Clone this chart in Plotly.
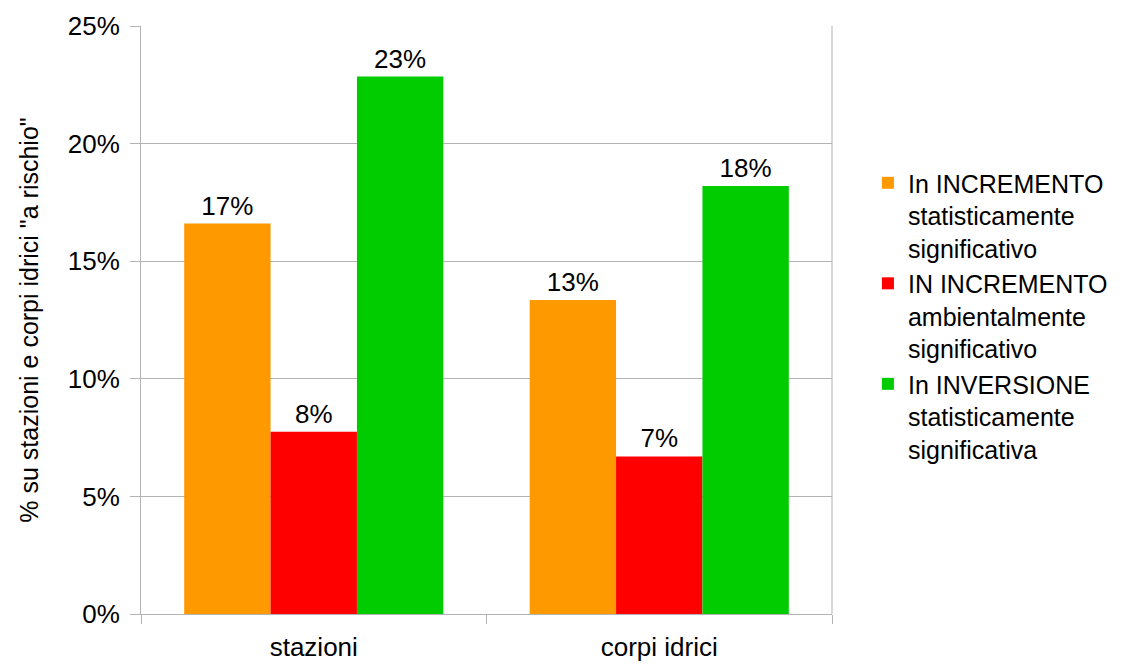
import plotly.graph_objects as go

categories = ["stazioni", "corpi idrici"]
series_names = [
    "In INCREMENTO<br>statisticamente<br>significativo",
    "IN INCREMENTO<br>ambientalmente<br>significativo",
    "In INVERSIONE<br>statisticamente<br>significativa",
]
incremento_stat = [0.166, 0.1335]
incremento_amb = [0.0775, 0.067]
inversione_stat = [0.2285, 0.182]
colors = ["#ff9900", "#ff0000", "#00cc00"]

FONT = "Liberation Sans, Arial"

fig = go.Figure()
for name, vals, col in zip(series_names, [incremento_stat, incremento_amb, inversione_stat], colors):
    fig.add_trace(go.Bar(
        x=categories, y=vals, name=name,
        marker=dict(color=col, line=dict(width=0)),
        texttemplate="%{y:.0%}", textposition="outside",
        textfont=dict(family=FONT, size=26, color="#000000"),
        cliponaxis=False,
    ))

fig.update_layout(
    width=1123, height=664,
    margin=dict(l=141, r=291, t=26, b=50, autoexpand=False),
    paper_bgcolor="white", plot_bgcolor="white",
    barmode="group", bargap=0.25, bargroupgap=0,
    font=dict(family=FONT, size=26, color="#000000"),
    showlegend=True,
    legend=dict(
        x=1.052, y=0.772, xanchor="left", yanchor="top",
        font=dict(size=25), tracegroupgap=6, itemwidth=30,
        valign="top",
    ),
    xaxis=dict(
        showline=True, linecolor="#b3b3b3", linewidth=1,
        ticks="outside", tickson="boundaries", ticklen=9, tickcolor="#b3b3b3",
        tickfont=dict(size=26), ticklabelstandoff=10, automargin=False,
        showgrid=False,
    ),
    yaxis=dict(
        range=[0, 0.25], dtick=0.05, tickformat=".0%",
        showgrid=True, gridcolor="#b3b3b3", gridwidth=1,
        showline=True, linecolor="#b3b3b3", linewidth=1,
        ticks="outside", ticklen=10, tickcolor="#b3b3b3",
        tickfont=dict(size=26), ticklabelstandoff=5, zeroline=False,
        automargin=False,
        title=dict(text='% su stazioni e corpi idrici "a rischio"',
                   font=dict(size=25), standoff=22),
    ),
)
# right border of the plot area
fig.add_shape(type="line", xref="paper", yref="paper", x0=1, x1=1, y0=0, y1=1,
              line=dict(color="#b3b3b3", width=1))

fig.write_html("out.html")
